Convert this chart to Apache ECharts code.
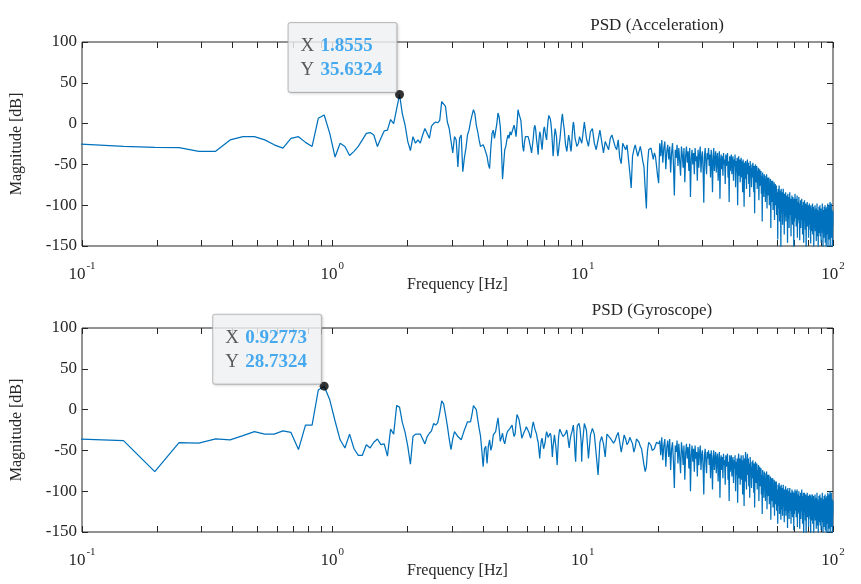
<!DOCTYPE html>
<html lang="en">
<head>
<meta charset="UTF-8">
<title>PSD</title>
<script src="https://cdn.jsdelivr.net/npm/echarts@6/dist/echarts.min.js"></script>
<style>
    html, body { margin: 0; padding: 0; background: #fff; }
    #chart { width: 861px; height: 584px; }
</style>
</head>
<body>
<div id="chart"></div>
<script>
// FFT bin width [Hz] (fs = 200 Hz, 4096 point FFT)
var df = 100 / 2048;

// low band: every bin, bin 2 (0.098 Hz) .. bin 204 (9.96 Hz)
var lowFirstBin = 2, lowStep = 1;
// high band: every 4th bin, bin 208 (10.16 Hz) .. bin 2048 (100 Hz)
var highFirstBin = 208, highStep = 4;

// PSD of the accelerometer [dB]
var accLow = [
    -25, -28, -29, -29.5, -34, -34, -20, -16, -16, -20,
    -26, -30, -18, -16, -23, -28, 6.5, 10.5, -12, -41,
    -24, -28, -39, -34, -28, -20, -12, -11, -14, -28,
    -18, -9, -8, 5, 0, 18, 35.6324, 12, -2, -22,
    -33, -16, -24, -20, -24, -14, -6, -12, -18, -3,
    0, 2, 1, 4, 27, 28, 21, 2, -6, -8,
    -36, -16, -20, -53, -18, -14, -59, -42, -30, -14,
    -8, 2, 10, 17, 12, -2, -10, -20, -28, -27,
    -26, -30, -32, -40, -50, -55, -30, -12, -8, -18,
    -20, 0, 13, 8, -4, -30, -68, -50, -32, -28,
    -20, -14, -18, -10, -14, -12, -6, -2, -8, -16,
    0, 17, 12, 8, 4, -10, -28, -34, -22, -16,
    -14, -18, -16, -20, -22, -30, -36, -38, -18, -6,
    -2, -8, -20, -28, -38, -20, -10, -14, -24, -32,
    -20, -8, -4, -10, -16, -20, -6, 4, 10, 12,
    6, 0, -10, -24, -40, -30, -14, -6, -4, -16,
    -32, -40, -34, -26, -20, -12, -2, 6, 12, 4,
    -2, -8, -18, -26, -30, -34, -28, -20, -14, -16,
    -22, -30, -34, -26, -14, -4, 2, -2, -10, -18,
    -20, -24, -28, -26, -28, -24, -20, -16, -16, -20,
    -22, -24, -20
];
var accHigh = [
    2, -18, -28, -10, -6, -24, -32, -20, -8, -6,
    -36, -22, -20, -32, -18, -14, -12, -28, -32, -20,
    -42, -49, -24, -28, -32, -26, -28, -60, -79, -40,
    -32, -26, -24, -40, -34, -28, -36, -46, -53, -80,
    -104, -50, -32, -34, -30, -32, -44, -36, -40, -52,
    -64, -73,
    -24, -40, -20, -48, -30, -22, -56, -34, -26, -44,
    -28, -60, -36, -24, -50, -88, -32, -42, -26, -52,
    -30, -46, -64, -28, -38, -54, -30, -72, -40, -28,
    -48, -34, -58, -30, -90, -44, -32, -50, -36, -62,
    -30, -46, -40, -70, -32, -54, -38, -28, -60, -42,
    -34, -56, -97, -40, -30, -48, -62, -36, -44, -30,
    -52, -38, -66, -32, -46, -84, -40, -30, -58, -44,
    -34, -60, -42, -36, -70, -48, -34, -92, -46, -38,
    -56, -40, -64, -36, -50, -44, -74, -38, -52, -42,
    -36, -66, -46, -96, -40, -58, -44, -38, -62, -48,
    -40, -70, -44, -52, -38, -78, -46, -60, -42, -100,
    -48, -40, -64, -44, -72, -50, -42, -66, -46, -84,
    -44, -58, -102, -48, -68, -46, -56, -80, -50, -44,
    -62, -48, -74, -52, -90, -46, -60, -54, -78, -50,
    -66, -48, -58, -84, -52, -110, -56, -50, -72, -60,
    -52, -80, -58, -66, -54, -94, -60, -56, -76, -62,
    -58, -86, -64, -120, -60, -72, -66, -90, -62, -70,
    -64, -96, -68, -78, -62, -104, -72, -66, -88, -70,
    -66, -100, -74, -84, -68, -128, -76, -70, -96, -80,
    -70, -106, -78, -90, -72, -118, -82, -74, -100, -84,
    -76, -112, -84, -94, -142, -80, -104, -86, -76, -120,
    -82, -96, -88, -155, -80, -110, -90, -84, -124, -92,
    -80, -106, -94, -136, -86, -114, -98, -84, -120, -96,
    -88, -110, -100, -146, -86, -116, -96, -90, -128, -100,
    -84, -112, -102, -92, -138, -96, -118, -88, -106, -124,
    -90, -110, -100, -155, -92, -120, -104, -86, -116, -98,
    -92, -126, -104, -114, -88, -140, -100, -118, -96, -108,
    -90, -122, -106, -143, -98, -116, -94, -128, -104, -112,
    -92, -118, -108, -136, -100, -124, -96, -146, -110, -104,
    -94, -120, -108, -130, -98, -116, -155, -104, -122, -100,
    -96, -126, -110, -118, -100, -140, -106, -124, -98, -114,
    -102, -130, -112, -147, -100, -120, -108, -132, -104, -118,
    -98, -136, -110, -124, -102, -155, -112, -128, -106, -120,
    -100, -132, -114, -126, -104, -144, -110, -122, -98, -138,
    -106, -128, -116, -155, -108, -124, -102, -134, -112, -120,
    -100, -138, -114, -126, -104, -146, -110, -130, -108, -122,
    -98, -134, -116, -155, -106, -124, -112, -140, -102, -128,
    -108, -130, -100, -146, -116, -126, -104, -155, -112, -132,
    -102, -136, -110, -128, -98, -155, -114, -138, -106, -124,
    -100, -142, -112, -130, -96, -155, -118, -136, -104, -128,
    -98, -140, -110, -132, -106, -155, -114, -126, -108
];

// PSD of the gyroscope [dB]
var gyroLow = [
    -36, -38, -76, -40.5, -41, -36, -37, -32, -27, -30,
    -30, -26, -28, -49, -19, -19, 24, 28.7324, 12, -14,
    -37, -47, -30, -48, -56, -56, -43, -47, -40, -36,
    -43, -42, -57, -24, -30, 5, 3, -16, -28, -45,
    -67, -33, -30, -30, -30, -36, -42, -33, -29, -26,
    -17, -19, -16, -4, 10.6, 7, -6, -20, -36, -49,
    -36, -27, -30, -33, -35, -37, -31, -25, -20, -15,
    -13, -15, -6, 5, 5, 0, -12, -23, -32, -50,
    -70, -48, -45, -66, -45, -37, -50, -44, -31, -29,
    -27, -18, -10, -24, -39, -34, -29, -38, -42, -35,
    -29, -26, -24, -23, -21, -19, -27, -33, -30, -16,
    -6, -4, -12, -19, -26, -35, -33, -29, -27, -24,
    -21, -19, -20, -28, -32, -35, -28, -20, -15, -17,
    -24, -22, -30, -36, -40, -50, -60, -46, -38, -35,
    -42, -48, -50, -40, -32, -27, -30, -34, -35, -32,
    -29, -32, -44, -58, -45, -38, -31, -32, -45, -55,
    -68, -50, -35, -28, -24, -23, -26, -30, -31, -33,
    -35, -35, -32, -29, -27, -25, -30, -36, -42, -47,
    -40, -35, -31, -29, -26, -22, -19, -28, -40, -55,
    -64, -45, -28, -20, -19, -18, -17, -20, -24, -26,
    -40, -64, -45
];
var gyroHigh = [
    -17, -25, -60, -31, -23, -30, -55, -80, -40, -33,
    -42, -58, -30, -28, -35, -34, -41, -38, -32, -28,
    -40, -52, -42, -31, -36, -43, -40, -34, -33, -42,
    -52, -46, -36, -35, -40, -45, -48, -58, -68, -76,
    -70, -50, -40, -38, -44, -50, -52, -48, -44, -40,
    -39, -42,
    -38, -56, -34, -62, -44, -36, -70, -46, -38, -58,
    -36, -74, -48, -40, -64, -96, -44, -52, -38, -66,
    -42, -58, -78, -40, -50, -68, -44, -86, -54, -42,
    -60, -46, -72, -42, -100, -56, -44, -64, -48, -76,
    -44, -60, -52, -82, -46, -68, -54, -44, -74, -56,
    -50, -70, -104, -56, -48, -64, -78, -52, -60, -50,
    -68, -54, -84, -50, -62, -98, -58, -50, -74, -60,
    -52, -78, -60, -54, -88, -64, -52, -108, -62, -56,
    -74, -58, -84, -54, -68, -62, -92, -56, -70, -60,
    -54, -86, -64, -112, -56, -76, -62, -56, -82, -66,
    -58, -90, -62, -72, -56, -100, -64, -80, -60, -114,
    -62, -54, -84, -60, -92, -66, -56, -86, -62, -104,
    -56, -76, -118, -60, -88, -52, -72, -98, -64, -54,
    -80, -60, -94, -66, -108, -58, -78, -70, -96, -64,
    -84, -62, -76, -102, -66, -120, -72, -64, -90, -76,
    -66, -98, -74, -84, -68, -112, -76, -70, -94, -80,
    -72, -104, -80, -128, -74, -90, -82, -108, -76, -88,
    -78, -112, -84, -96, -76, -122, -88, -80, -106, -86,
    -80, -116, -90, -100, -82, -135, -92, -84, -112, -96,
    -84, -120, -94, -106, -86, -130, -98, -88, -116, -100,
    -88, -124, -98, -110, -140, -92, -118, -102, -90, -128,
    -94, -108, -100, -135, -92, -122, -104, -96, -130, -106,
    -92, -118, -106, -138, -98, -124, -108, -94, -130, -110,
    -98, -122, -110, -145, -96, -126, -106, -100, -134, -112,
    -96, -124, -112, -102, -140, -106, -128, -98, -116, -132,
    -100, -120, -110, -148, -102, -128, -114, -98, -124, -108,
    -100, -132, -114, -122, -98, -144, -110, -126, -104, -116,
    -100, -128, -114, -146, -106, -122, -102, -134, -112, -118,
    -98, -124, -114, -140, -106, -130, -102, -155, -116, -110,
    -102, -126, -114, -136, -104, -122, -155, -110, -128, -106,
    -102, -132, -116, -124, -106, -144, -112, -130, -104, -120,
    -106, -134, -118, -155, -104, -126, -114, -136, -108, -122,
    -104, -140, -116, -128, -106, -155, -118, -132, -110, -124,
    -104, -136, -118, -130, -108, -146, -114, -126, -102, -142,
    -110, -132, -120, -155, -112, -128, -106, -138, -116, -124,
    -104, -142, -118, -130, -108, -148, -114, -134, -112, -126,
    -102, -138, -120, -155, -110, -128, -116, -144, -106, -132,
    -112, -134, -104, -148, -120, -130, -108, -155, -116, -136,
    -106, -140, -114, -132, -102, -155, -118, -142, -110, -128,
    -104, -146, -116, -134, -100, -155, -122, -140, -108, -132,
    -102, -144, -114, -136, -110, -155, -118, -130, -112
];

var titles = ['PSD (Acceleration)', 'PSD (Gyroscope)'];
var decadeTicks = [0.1, 1, 10, 100];          // labelled x ticks
var minorSteps = [2, 3, 4, 5, 6, 7, 8, 9];    // minor x ticks inside each decade
var yMin = -150, yMax = 100, yStep = 50;

var FONT = 'Liberation Serif, Times New Roman, serif';
var INK = '#262626';

function toPoints(firstBin, step, values) {
    var pts = [];
    for (var i = 0; i < values.length; i++) {
        pts.push([(firstBin + i * step) * df, values[i]]);
    }
    return pts;
}

function peakOf(points) {
    var best = points[0];
    points.forEach(function (p) { if (p[1] > best[1]) best = p; });
    return best;
}

// tick positions of the log axis, in decades
var logTicks = [];
decadeTicks.forEach(function (d, i) {
    logTicks.push(Math.log10(d));
    if (i < decadeTicks.length - 1) {
        minorSteps.forEach(function (m) { logTicks.push(Math.log10(d * m)); });
    }
});
var labelTicks = decadeTicks.map(function (d) { return Math.round(Math.log10(d)); });

var chart = echarts.init(document.getElementById('chart'));

var grids = [], xAxes = [], yAxes = [], series = [], titleList = [];
var gridTops = [42, 328];
var titlePos = [[652, 12], [647, 297]];
var datasets = [
    toPoints(lowFirstBin, lowStep, accLow).concat(toPoints(highFirstBin, highStep, accHigh)),
    toPoints(lowFirstBin, lowStep, gyroLow).concat(toPoints(highFirstBin, highStep, gyroHigh))
];

datasets.forEach(function (pts, g) {
    grids.push({
        left: 82, right: 28, top: gridTops[g], height: 204,
        show: true, borderColor: INK, borderWidth: 1, backgroundColor: '#fff',
        outerBoundsMode: 'none'
    });
    titleList.push({
        text: titles[g], left: titlePos[g][0], top: titlePos[g][1], textAlign: 'center',
        textStyle: { fontFamily: FONT, fontSize: 17, fontWeight: 'normal', color: INK }
    });

    var xi = xAxes.length, yi = yAxes.length;
    // data axis (log), hidden
    xAxes.push({
        type: 'log', logBase: 10, gridIndex: g, min: 0.1, max: 100, show: false, position: 'bottom',
        axisLine: { onZero: false }
    });
    // bottom decoration in decades: ticks and 10^n labels
    xAxes.push({
        type: 'value', gridIndex: g, position: 'bottom', min: -1, max: 2, interval: 1,
        axisLine: { show: false, onZero: false },
        axisTick: { show: true, inside: true, length: 6, customValues: logTicks,
            lineStyle: { color: INK, width: 1 } },
        splitLine: { show: false },
        axisLabel: {
            show: true, margin: 15, customValues: labelTicks,
            formatter: function (v) { return '{b|10}{s|' + v + '}'; },
            rich: {
                b: { fontFamily: FONT, fontSize: 17, color: INK, lineHeight: 22, verticalAlign: 'bottom' },
                s: { fontFamily: FONT, fontSize: 11, color: INK, lineHeight: 22, verticalAlign: 'top', padding: [0, 0, 0, 1] }
            }
        },
        name: 'Frequency [Hz]', nameLocation: 'middle', nameGap: 31, nameMoveOverlap: false,
        nameTextStyle: { fontFamily: FONT, fontSize: 16, color: INK }
    });
    // top mirror ticks
    xAxes.push({
        type: 'value', gridIndex: g, position: 'top', min: -1, max: 2, interval: 1,
        axisLine: { show: false, onZero: false },
        axisTick: { show: true, inside: true, length: 6, customValues: logTicks,
            lineStyle: { color: INK, width: 1 } },
        splitLine: { show: false },
        axisLabel: { show: false }
    });

    yAxes.push({
        type: 'value', gridIndex: g, position: 'left', min: yMin, max: yMax, interval: yStep,
        axisLine: { show: false, onZero: false },
        axisTick: { show: true, inside: true, length: 6, lineStyle: { color: INK } },
        splitLine: { show: false },
        axisLabel: { margin: 5, fontFamily: FONT, fontSize: 17, color: INK },
        name: 'Magnitude [dB]', nameLocation: 'middle', nameGap: 57, nameRotate: 90,
        nameTextStyle: { fontFamily: FONT, fontSize: 16, color: INK }
    });
    yAxes.push({
        type: 'value', gridIndex: g, position: 'right', min: yMin, max: yMax, interval: yStep,
        axisLine: { show: false, onZero: false },
        axisTick: { show: true, inside: true, length: 6, lineStyle: { color: INK } },
        splitLine: { show: false },
        axisLabel: { show: false }
    });

    series.push({
        type: 'line', xAxisIndex: xi, yAxisIndex: yi, data: pts,
        showSymbol: false, symbol: 'none', clip: true, silent: true,
        lineStyle: { color: '#0072BD', width: 1.25 },
        emphasis: { disabled: true }, z: 2
    });

    var pk = peakOf(pts);
    series.push({
        type: 'scatter', xAxisIndex: xi, yAxisIndex: yi, data: [pk],
        symbol: 'circle', symbolSize: 9, itemStyle: { color: '#000' }, silent: true, z: 5,
        label: {
            show: true, position: [1.5, 2], align: 'right', verticalAlign: 'bottom',
            backgroundColor: '#f6f7f9', borderColor: '#b3b3b3', borderWidth: 1, borderRadius: 2,
            shadowColor: 'rgba(0,0,0,0.15)', shadowBlur: 3, shadowOffsetX: 1, shadowOffsetY: 1,
            padding: [11, 10, 10, 12],
            formatter: function (p) {
                return '{k|X}{v|' + p.value[0].toPrecision(5) + '}\n{k|Y}{v|' + p.value[1].toPrecision(6) + '}';
            },
            rich: {
                k: { fontFamily: FONT, fontSize: 19, color: '#333', lineHeight: 24, width: 20, align: 'left' },
                v: { fontFamily: FONT, fontSize: 19, color: '#1a96ee', fontWeight: 'bold', lineHeight: 24, width: 66, align: 'left' }
            }
        }
    });
});

chart.setOption({
    animation: false,
    backgroundColor: '#fff',
    title: titleList,
    grid: grids,
    xAxis: xAxes,
    yAxis: yAxes,
    series: series
});
</script>
</body>
</html>
